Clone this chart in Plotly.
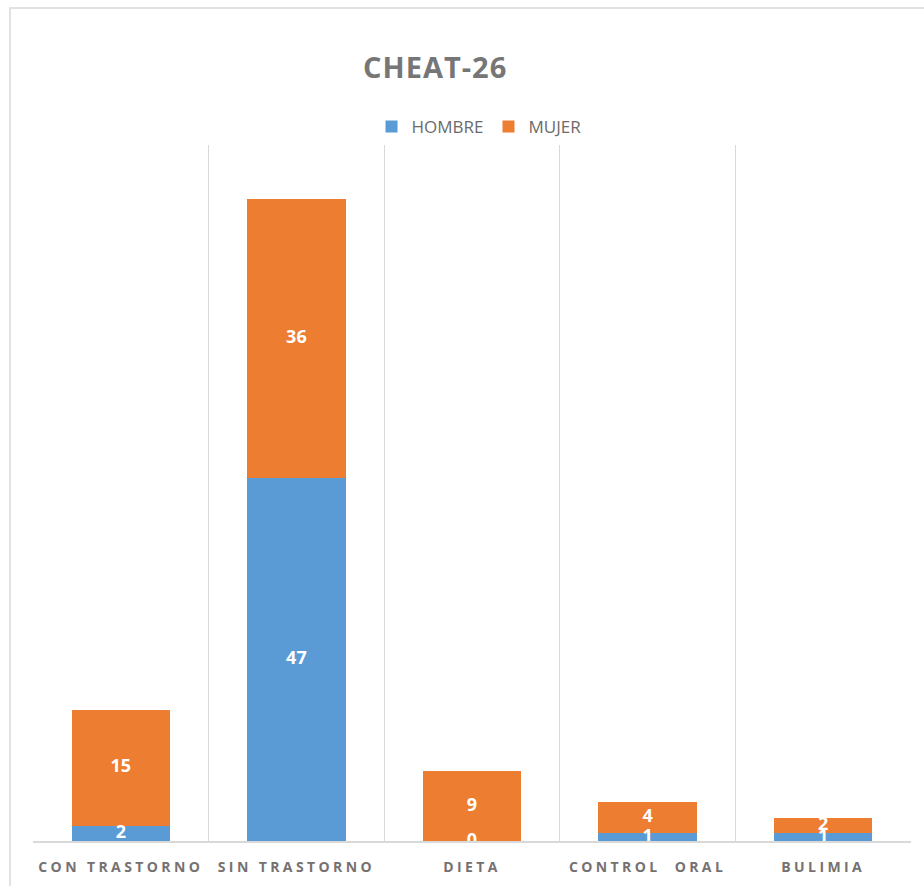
import plotly.graph_objects as go

categories = ["CON TRASTORNO", "SIN TRASTORNO", "DIETA", "CONTROL  ORAL", "BULIMIA"]
hombre = [2, 47, 0, 1, 1]
mujer = [15, 36, 9, 4, 2]
series_names = ["HOMBRE", "MUJER"]
colors = ["#5B9BD5", "#ED7D31"]

fig = go.Figure()
base = [0] * len(categories)
label_x, label_y, label_t = [], [], []
for name, vals, col in zip(series_names, [hombre, mujer], colors):
    fig.add_trace(go.Bar(
        x=categories, y=vals, name=name, marker=dict(color=col, line=dict(width=0)),
        width=0.56, hoverinfo="x+y+name",
    ))
    for i, v in enumerate(vals):
        label_x.append(categories[i])
        label_y.append(base[i] + v / 2)
        label_t.append(str(v))
        base[i] += v

fig.add_trace(go.Scatter(
    x=label_x, y=label_y, text=label_t, mode="text", showlegend=False,
    textposition="middle center", cliponaxis=True, hoverinfo="skip",
    textfont=dict(color="white", size=18, family="Open Sans", weight="bold"),
))

fig.update_layout(
    barmode="stack",
    width=924, height=886,
    margin=dict(l=33, r=13, t=145, b=45, autoexpand=False),
    paper_bgcolor="white", plot_bgcolor="white",
    title=dict(text="<b>CHEAT-26</b>", x=0.458, xref="paper", xanchor="center",
               y=0.923, yref="container", yanchor="middle",
               font=dict(family="Open Sans", size=29, color="#767676")),
    legend=dict(orientation="h", x=0.508, xanchor="center", y=1.026, yanchor="middle",
                font=dict(family="Open Sans", size=17, color="#6b6b6b"),
                itemwidth=30, tracegroupgap=0, traceorder="normal"),
    showlegend=True,
    xaxis=dict(tickson="boundaries", showgrid=True, gridcolor="#d9d9d9", gridwidth=1,
               showline=True, linecolor="#d9d9d9", linewidth=1.5, ticks="",
               ticklabelstandoff=12, automargin=False,
               tickfont=dict(family="Open Sans", size=14, color="#767171", weight="bold"),
               fixedrange=True),
    yaxis=dict(range=[0, 90], showgrid=False, showticklabels=False, zeroline=False,
               showline=False, ticks="", automargin=False),
    shapes=[dict(type="rect", xref="paper", yref="paper", x0=-0.0262, x1=1.1, y0=-0.2, y1=1.197,
                 line=dict(color="#d9d9d9", width=1.5), fillcolor="rgba(0,0,0,0)", layer="below")],
)

post = """
var s=document.createElement('style');
s.innerHTML='.xtick text{letter-spacing:3.4px} .gtitle{letter-spacing:1px}';
document.head.appendChild(s);
"""
fig.write_html("out.html", post_script=post)
